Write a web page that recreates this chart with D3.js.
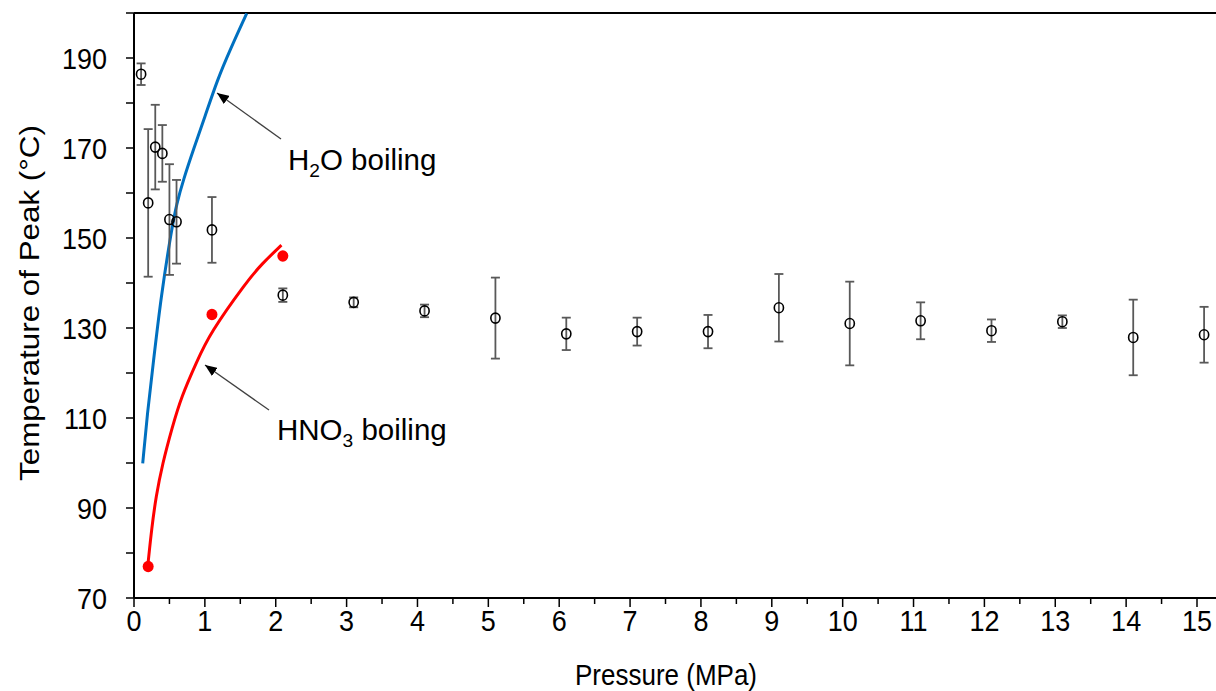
<!DOCTYPE html>
<html>
<head>
<meta charset="utf-8">
<script src="https://cdn.jsdelivr.net/npm/d3@7"></script>
<style>
  html, body { margin: 0; padding: 0; background: #fff; }
  svg { display: block; }
  text { font-family: "Liberation Sans", Arial, sans-serif; fill: #000; }
</style>
</head>
<body>
<svg id="chart" width="1216" height="691"></svg>
<script>
// Measured peak temperature vs. pressure (mean ± error)
const pressure = [0.1, 0.2, 0.3, 0.4, 0.5, 0.6, 1.1, 2.1, 3.1, 4.1, 5.1, 6.1, 7.1, 8.1, 9.1, 10.1, 11.1, 12.1, 13.1, 14.1, 15.1];
const peakTemp = [186.4, 157.8, 170.2, 168.8, 154.1, 153.6, 151.8, 137.3, 135.7, 133.8, 132.2, 128.7, 129.2, 129.2, 134.5, 131.0, 131.6, 129.4, 131.4, 127.9, 128.5];
const peakErr  = [2.4, 16.4, 9.4, 6.3, 12.3, 9.3, 7.3, 1.5, 1.1, 1.4, 9.0, 3.6, 3.1, 3.7, 7.5, 9.3, 4.1, 2.5, 1.4, 8.4, 6.2];

// HNO3 boiling points
const hno3Pressure = [0.2, 1.1, 2.1];
const hno3Temp     = [77, 133, 146];

// Boiling curves (pressure MPa, temperature °C)
const waterCurveP = [0.123, 0.188, 0.272, 0.381, 0.529, 0.603, 0.696, 0.837, 1.002, 1.175, 1.355, 1.59];
const waterCurveT = [99.9, 111.0, 122.2, 137.0, 151.8, 157.7, 162.9, 169.6, 177.0, 185.1, 191.8, 199.9];
const hno3CurveP  = [0.2, 0.25, 0.31, 0.40, 0.54, 0.67, 0.885, 1.07, 1.59, 1.8, 2.08];
const hno3CurveT  = [78, 85.5, 92.5, 99.7, 108, 114.8, 122.5, 128.8, 140.3, 144.2, 148.4];

// Axis ticks
const xTickValues = d3.range(0, 15.01, 0.5);
const xTickLabels = d3.range(0, 16, 1);
const yTickValues = d3.range(70, 201, 10);
const yTickLabels = [70, 90, 110, 130, 150, 170, 190];

(function draw() {
  const svg = d3.select("#chart");
  const W = 1216;
  const plotLeft = 134, plotBottom = 598, plotTop = 13;

  const x = d3.scaleLinear().domain([0, 15]).range([plotLeft, 1197]);
  const y = d3.scaleLinear().domain([70, 200]).range([plotBottom, plotTop]);

  const FONT = 27;
  const STRETCH = 1.12;   // glyphs are drawn slightly tall

  const defs = svg.append("defs");
  defs.append("clipPath").attr("id", "plotClip")
    .append("rect").attr("x", plotLeft).attr("y", plotTop)
    .attr("width", W - plotLeft).attr("height", plotBottom - plotTop);

  defs.append("marker")
    .attr("id", "arrowHead").attr("viewBox", "0 0 12 10")
    .attr("refX", 12).attr("refY", 5)
    .attr("markerWidth", 12).attr("markerHeight", 10)
    .attr("markerUnits", "userSpaceOnUse")
    .attr("orient", "auto")
    .append("path").attr("d", "M0,0 L12,5 L0,10 Z").attr("fill", "#000");

  // ---- axes ----
  const axisG = svg.append("g");

  axisG.selectAll("line.xt").data(xTickValues).enter().append("line")
    .attr("x1", d => x(d)).attr("x2", d => x(d))
    .attr("y1", plotBottom).attr("y2", d => plotBottom + (Number.isInteger(d) ? 9 : 6))
    .attr("stroke", "#000").attr("stroke-width", 1.5);
  axisG.selectAll("g.xl").data(xTickLabels).enter().append("g")
    .attr("transform", d => `translate(${x(d)},631) scale(1,${STRETCH})`)
    .append("text")
    .attr("text-anchor", "middle").attr("font-size", FONT)
    .text(d => d);

  axisG.selectAll("line.yt").data(yTickValues).enter().append("line")
    .attr("x1", plotLeft - 8).attr("x2", plotLeft)
    .attr("y1", d => y(d)).attr("y2", d => y(d))
    .attr("stroke", "#000").attr("stroke-width", 1.5);
  axisG.selectAll("g.yl").data(yTickLabels).enter().append("g")
    .attr("transform", d => `translate(107,${y(d)}) scale(1,${STRETCH})`)
    .append("text")
    .attr("dy", "0.36em")
    .attr("text-anchor", "end").attr("font-size", FONT)
    .text(d => d);

  axisG.append("line").attr("x1", plotLeft).attr("x2", W).attr("y1", plotBottom).attr("y2", plotBottom)
    .attr("stroke", "#000").attr("stroke-width", 2);
  axisG.append("line").attr("x1", plotLeft).attr("x2", plotLeft).attr("y1", plotTop).attr("y2", plotBottom)
    .attr("stroke", "#000").attr("stroke-width", 2);
  axisG.append("line").attr("x1", plotLeft).attr("x2", W).attr("y1", plotTop).attr("y2", plotTop)
    .attr("stroke", "#000").attr("stroke-width", 2);

  // axis titles
  svg.append("g").attr("transform", `translate(666,685) scale(1,${STRETCH})`)
    .append("text")
    .attr("text-anchor", "middle").attr("font-size", 26)
    .text("Pressure (MPa)");
  svg.append("g").attr("transform", `translate(39,303) scale(1,${STRETCH}) rotate(-90)`)
    .append("text")
    .attr("text-anchor", "middle").attr("font-size", 28)
    .text("Temperature of Peak (°C)");

  // ---- curves ----
  const plot = svg.append("g").attr("clip-path", "url(#plotClip)");
  const line = d3.line().x(d => x(d[0])).y(d => y(d[1])).curve(d3.curveBasis);

  plot.append("path").datum(d3.zip(waterCurveP, waterCurveT))
    .attr("d", line).attr("fill", "none").attr("stroke", "#0070C0").attr("stroke-width", 3);
  plot.append("path").datum(d3.zip(hno3CurveP, hno3CurveT))
    .attr("d", line).attr("fill", "none").attr("stroke", "#FF0000").attr("stroke-width", 3);

  // ---- error bars ----
  const peaks = pressure.map((p, i) => ({ p, t: peakTemp[i], e: peakErr[i] }));
  const eb = plot.append("g").attr("stroke", "#595959").attr("stroke-width", 1.8);
  eb.selectAll("line.v").data(peaks).enter().append("line")
    .attr("x1", d => x(d.p)).attr("x2", d => x(d.p))
    .attr("y1", d => y(d.t - d.e)).attr("y2", d => y(d.t + d.e));
  eb.selectAll("line.cu").data(peaks).enter().append("line")
    .attr("x1", d => x(d.p) - 4.5).attr("x2", d => x(d.p) + 4.5)
    .attr("y1", d => y(d.t + d.e)).attr("y2", d => y(d.t + d.e));
  eb.selectAll("line.cl").data(peaks).enter().append("line")
    .attr("x1", d => x(d.p) - 4.5).attr("x2", d => x(d.p) + 4.5)
    .attr("y1", d => y(d.t - d.e)).attr("y2", d => y(d.t - d.e));

  // ---- markers ----
  plot.selectAll("ellipse.peak").data(peaks).enter().append("ellipse")
    .attr("cx", d => x(d.p)).attr("cy", d => y(d.t)).attr("rx", 4.6).attr("ry", 5)
    .attr("fill", "none").attr("stroke", "#000").attr("stroke-width", 1.6);

  plot.selectAll("ellipse.hno3").data(d3.zip(hno3Pressure, hno3Temp)).enter().append("ellipse")
    .attr("cx", d => x(d[0])).attr("cy", d => y(d[1])).attr("rx", 5.5).attr("ry", 5.8)
    .attr("fill", "#FF0000");

  // ---- annotations ----
  const ANN = 29.5;
  const ann = svg.append("g");
  ann.append("line").attr("x1", 281).attr("y1", 139).attr("x2", 217).attr("y2", 93)
    .attr("stroke", "#404040").attr("stroke-width", 1.3).attr("marker-end", "url(#arrowHead)");
  const t1 = ann.append("text").attr("x", 288).attr("y", 170).attr("font-size", ANN);
  t1.append("tspan").text("H");
  t1.append("tspan").attr("font-size", ANN * 0.65).attr("dy", 7).text("2");
  t1.append("tspan").attr("dy", -7).text("O boiling");

  ann.append("line").attr("x1", 269).attr("y1", 410).attr("x2", 205).attr("y2", 365)
    .attr("stroke", "#404040").attr("stroke-width", 1.3).attr("marker-end", "url(#arrowHead)");
  const t2 = ann.append("text").attr("x", 277).attr("y", 440).attr("font-size", ANN);
  t2.append("tspan").text("HNO");
  t2.append("tspan").attr("font-size", ANN * 0.65).attr("dy", 7).text("3");
  t2.append("tspan").attr("dy", -7).text(" boiling");
})();
</script>
</body>
</html>
